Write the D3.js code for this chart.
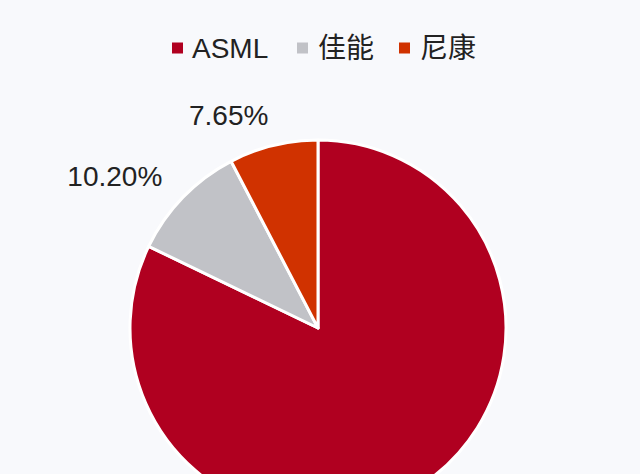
<!DOCTYPE html>
<html>
<head>
<meta charset="utf-8">
<script src="https://cdn.jsdelivr.net/npm/d3@7"></script>
<style>
  body { margin: 0; background: #f8f9fc; }
  svg { display: block; }
</style>
</head>
<body>
<div id="container"></div>
<script>
const categories = ["ASML", "佳能", "尼康"];
const shares = [82.15, 10.2, 7.65];
const labels = ["", "10.20%", "7.65%"];
const colors = ["#b00020", "#c1c2c7", "#d03200"];

const w = 640;
const h = 474;
const cx = 318;
const cy = 328;
const radius = 188;

const svg = d3
  .select("#container")
  .append("svg")
  .attr("width", w)
  .attr("height", h)
  .style("background-color", "#f8f9fc");

const pie = d3.pie().sort(null).value((d) => d.v);
const arcs = pie(categories.map((c, i) => ({ c, v: shares[i], i })));
const arc = d3.arc().innerRadius(0).outerRadius(radius);

const g = svg.append("g").attr("transform", `translate(${cx},${cy})`);

g.selectAll("path")
  .data(arcs)
  .enter()
  .append("path")
  .attr("d", arc)
  .attr("fill", (d) => colors[d.data.i])
  .attr("stroke", "#ffffff")
  .attr("stroke-width", 3)
  .attr("stroke-linejoin", "round");

// percentage labels outside the small slices, right-aligned to a point on the mid angle
const labelArc = d3.arc().innerRadius(221).outerRadius(221);
g.selectAll("text.lbl")
  .data(arcs.filter((d) => labels[d.data.i]))
  .enter()
  .append("text")
  .attr("class", "lbl")
  .attr("transform", (d) => `translate(${labelArc.centroid(d)})`)
  .attr("text-anchor", "end")
  .attr("dx", 3)
  .attr("dy", "0.42em")
  .style("font-family", "Liberation Sans, Arial, sans-serif")
  .style("font-size", "28px")
  .style("fill", "#222")
  .text((d) => labels[d.data.i]);

// legend
const legendX = [172, 297, 399];
const legend = svg
  .selectAll("g.legend")
  .data(categories)
  .enter()
  .append("g")
  .attr("class", "legend")
  .attr("transform", (d, i) => `translate(${legendX[i]}, 48)`);

legend
  .append("rect")
  .attr("x", 0)
  .attr("y", -5.5)
  .attr("width", 11)
  .attr("height", 11)
  .attr("fill", (d, i) => colors[i]);

legend
  .append("text")
  .attr("x", (d, i) => (i === 0 ? 20 : 21))
  .attr("dy", "0.36em")
  .style("font-family", "Liberation Sans, 'Noto Sans CJK SC', Arial, sans-serif")
  .style("font-size", "28px")
  .style("fill", "#222")
  .text((d) => d);
</script>
</body>
</html>
